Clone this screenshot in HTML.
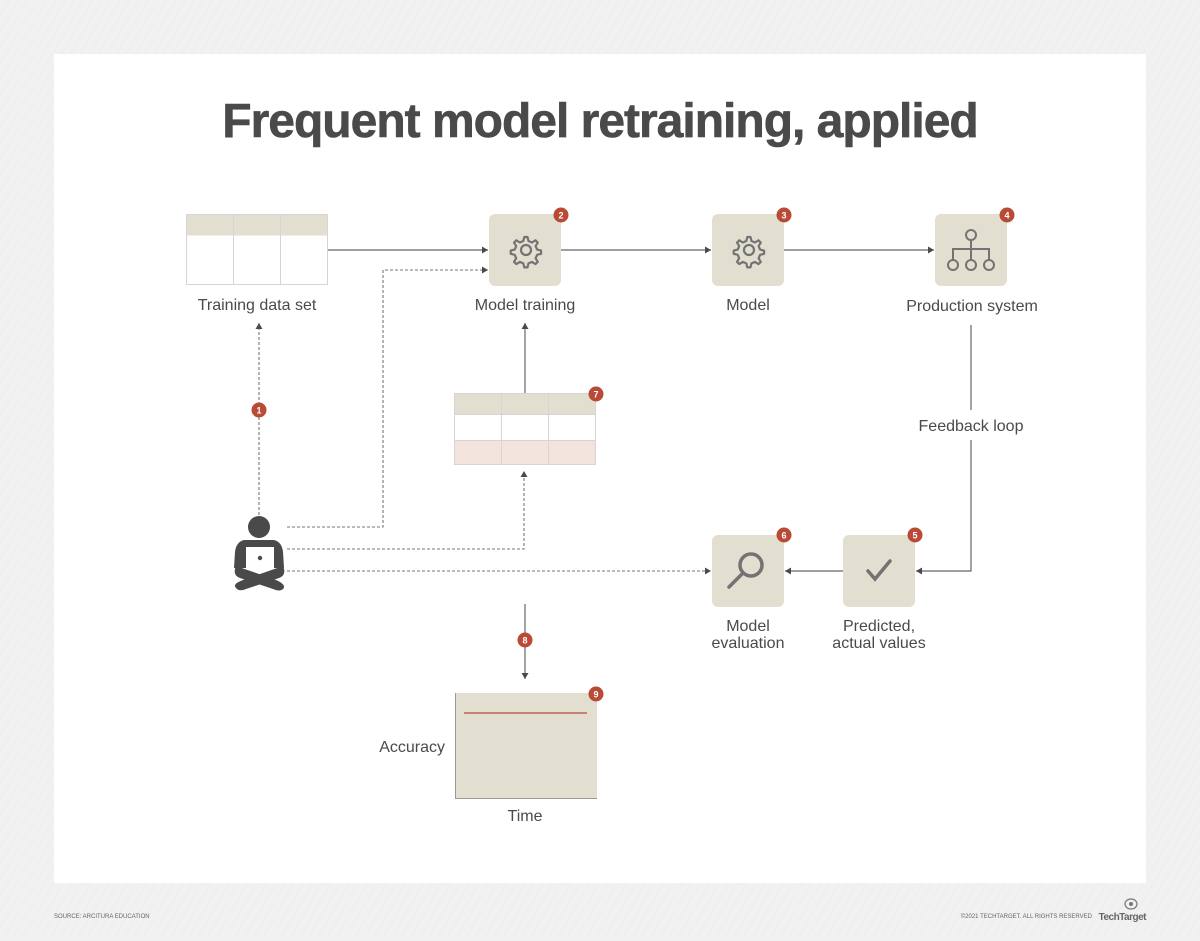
<!DOCTYPE html>
<html><head><meta charset="utf-8"><style>
html,body{margin:0;padding:0;}
body{width:1200px;height:936px;overflow:hidden;background:#f1f1f1;font-family:"Liberation Sans",sans-serif;}
</style></head><body>
<svg width="1200" height="936" viewBox="0 0 1200 936" xmlns="http://www.w3.org/2000/svg" font-family="Liberation Sans, sans-serif">
<defs>
<pattern id="st" width="8" height="8" patternUnits="userSpaceOnUse" patternTransform="rotate(30)">
<rect width="8" height="8" fill="#f1f1f1"/><line x1="0" y1="0" x2="0" y2="8" stroke="#e8e8e8" stroke-width="1"/>
</pattern>
<marker id="a" markerWidth="8" markerHeight="8" refX="6" refY="4" orient="auto" markerUnits="userSpaceOnUse">
<path d="M0,0.5 L6,4 L0,7.5 Z" fill="#4a4a4a"/></marker>
<g id="gear"><path d="M0,-13 l3,0 l1,4 l3.5,1.5 l3.5,-2.2 l2.3,2.3 l-2.2,3.5 l1.5,3.5 l4,1 l0,3.2 l-4,1 l-1.5,3.5 l2.2,3.5 l-2.3,2.3 l-3.5,-2.2 l-3.5,1.5 l-1,4 l-3.2,0 l-1,-4 l-3.5,-1.5 l-3.5,2.2 l-2.3,-2.3 l2.2,-3.5 l-1.5,-3.5 l-4,-1 l0,-3.2 l4,-1 l1.5,-3.5 l-2.2,-3.5 l2.3,-2.3 l3.5,2.2 l3.5,-1.5 l1,-4 z" transform="translate(-1.5,0)" fill="none" stroke="#737373" stroke-width="2.2" stroke-linejoin="round"/><circle r="5" fill="none" stroke="#737373" stroke-width="2.2"/></g>
</defs>
<rect width="1200" height="936" fill="url(#st)"/>
<rect x="54" y="54" width="1092" height="829" fill="#fff"/>
<text x="600" y="137" text-anchor="middle" font-size="48" font-weight="bold" fill="#4a4a4a" letter-spacing="-1" stroke="#4a4a4a" stroke-width="0.6">Frequent model retraining, applied</text>

<!-- table 1 -->
<rect x="186.5" y="214.5" width="141" height="21" fill="#e3dfd0"/>
<rect x="186.5" y="214.5" width="141" height="70" fill="none" stroke="#d5d5d5"/>
<line x1="233.5" y1="214" x2="233.5" y2="285" stroke="#d5d5d5"/>
<line x1="280.5" y1="214" x2="280.5" y2="285" stroke="#d5d5d5"/>

<g fill="#e3dfd0">
<rect x="489" y="214" width="72" height="72" rx="6"/>
<rect x="712" y="214" width="72" height="72" rx="6"/>
<rect x="935" y="214" width="72" height="72" rx="6"/>
<rect x="712" y="535" width="72" height="72" rx="6"/>
<rect x="843" y="535" width="72" height="72" rx="6"/>
</g>
<use href="#gear" x="526" y="250"/>
<use href="#gear" x="749" y="250"/>
<g stroke="#737373" stroke-width="2" fill="none">
<circle cx="971" cy="235" r="5"/><circle cx="953" cy="265" r="5"/><circle cx="971" cy="265" r="5"/><circle cx="989" cy="265" r="5"/>
<path d="M971,240 V260 M953,260 V249 H989 V260"/>
</g>
<g stroke="#737373" stroke-width="3.5" fill="none" stroke-linecap="round">
<circle cx="751" cy="565" r="11"/><line x1="743" y1="573" x2="729" y2="587"/>
<path d="M868,571 L875,579 L890,561"/>
</g>

<!-- solid connectors -->
<g stroke="#666" stroke-width="1.2" fill="none">
<line x1="328" y1="250" x2="488" y2="250" marker-end="url(#a)"/>
<line x1="561" y1="250" x2="711" y2="250" marker-end="url(#a)"/>
<line x1="784" y1="250" x2="934" y2="250" marker-end="url(#a)"/>
<line x1="971" y1="325" x2="971" y2="410"/>
<polyline points="971,440 971,571 916,571" marker-end="url(#a)"/>
<line x1="843" y1="571" x2="785" y2="571" marker-end="url(#a)"/>
<line x1="525" y1="393" x2="525" y2="323" marker-end="url(#a)"/>
<line x1="525" y1="604" x2="525" y2="679" marker-end="url(#a)"/>
</g>
<!-- dotted -->
<g stroke="#777" stroke-width="1.1" fill="none" stroke-dasharray="3,2">
<line x1="259" y1="515" x2="259" y2="323" marker-end="url(#a)"/>
<polyline points="287,527 383,527 383,270 488,270" marker-end="url(#a)"/>
<polyline points="287,549 524,549 524,471" marker-end="url(#a)"/>
<line x1="287" y1="571" x2="711" y2="571" marker-end="url(#a)"/>
</g>

<!-- table 7 -->
<rect x="454.5" y="393.5" width="141" height="21" fill="#e3dfd0"/>
<rect x="454.5" y="440.5" width="141" height="24" fill="#f2e3dc"/>
<rect x="454.5" y="393.5" width="141" height="71" fill="none" stroke="#d5d5d5"/>
<line x1="454" y1="414.5" x2="596" y2="414.5" stroke="#d5d5d5"/>
<line x1="454" y1="440.5" x2="596" y2="440.5" stroke="#d5d5d5"/>
<line x1="501.5" y1="393" x2="501.5" y2="465" stroke="#d5d5d5"/>
<line x1="548.5" y1="393" x2="548.5" y2="465" stroke="#d5d5d5"/>

<!-- chart -->
<rect x="455" y="693" width="142" height="105" fill="#e3dfd0"/>
<polyline points="455.5,693 455.5,798.5 597,798.5" fill="none" stroke="#999" stroke-width="1"/>
<line x1="464" y1="713" x2="587" y2="713" stroke="#b94a35" stroke-width="1.2"/>

<!-- person -->
<g fill="#4a4a4a">
<circle cx="259" cy="527" r="11"/>
<path d="M244,540 H274 Q282,542 283,552 L284,568 H234 L235,552 Q236,542 244,540 Z"/>
<path d="M236,566 L276,580 Q287,585 283,589 Q280,592 273,589 L240,578 Q232,575 236,566 Z"/>
<path d="M283,566 L243,580 Q232,584 236,588 Q239,592 246,589 L279,578 Q287,575 283,566 Z"/>
</g>
<rect x="246" y="547" width="28" height="22" fill="#fff"/>
<circle cx="260" cy="558" r="2.2" fill="#4a4a4a"/>

<!-- badges -->
<g fill="#b94a35">
<circle cx="561" cy="215" r="7.5"/><circle cx="784" cy="215" r="7.5"/><circle cx="1007" cy="215" r="7.5"/>
<circle cx="915" cy="535" r="7.5"/><circle cx="784" cy="535" r="7.5"/><circle cx="596" cy="394" r="7.5"/>
<circle cx="259" cy="410" r="7.5"/><circle cx="525" cy="640" r="7.5"/><circle cx="596" cy="694" r="7.5"/>
</g>
<g fill="#fff" font-size="9" font-weight="bold" text-anchor="middle">
<text x="561" y="218.5">2</text><text x="784" y="218.5">3</text><text x="1007" y="218.5">4</text>
<text x="915" y="538.5">5</text><text x="784" y="538.5">6</text><text x="596" y="397.5">7</text>
<text x="259" y="413.5">1</text><text x="525" y="643.5">8</text><text x="596" y="697.5">9</text>
</g>

<!-- labels -->
<g fill="#4a4a4a" font-size="16" text-anchor="middle">
<text x="257" y="310">Training data set</text>
<text x="525" y="310">Model training</text>
<text x="748" y="310">Model</text>
<text x="972" y="311">Production system</text>
<text x="971" y="431">Feedback loop</text>
<text x="748" y="631">Model</text>
<text x="748" y="648">evaluation</text>
<text x="879" y="631">Predicted,</text>
<text x="879" y="648">actual values</text>
<text x="525" y="821">Time</text>
<text x="445" y="752" text-anchor="end">Accuracy</text>
</g>

<!-- footer -->
<text x="54" y="918" font-size="6" fill="#666">SOURCE: ARCITURA EDUCATION</text>
<text x="1092" y="918" font-size="6" fill="#666" text-anchor="end">©2021 TECHTARGET. ALL RIGHTS RESERVED</text>
<text x="1146" y="920" font-size="10" font-weight="bold" fill="#666" text-anchor="end" letter-spacing="-0.5">TechTarget</text>
<ellipse cx="1131" cy="904" rx="6" ry="5" fill="none" stroke="#777" stroke-width="1.2"/>
<circle cx="1131" cy="904" r="2" fill="#777"/>
</svg>
</body></html>
